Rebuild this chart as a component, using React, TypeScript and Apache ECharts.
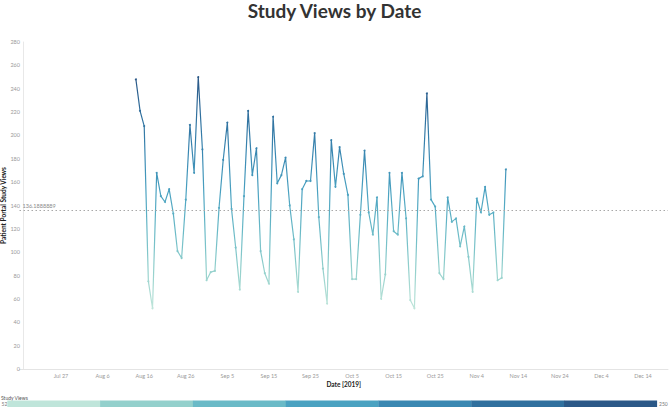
import React, { useEffect, useRef } from "react";
import * as echarts from "echarts";

// Daily study views, Aug 14 2019 .. Nov 11 2019 (one value per day)
const FIRST_DATE = "2019-08-14";
const studyViews: number[] = [
  248, 221, 208, 75, 52, 168, 148, 143, 154, 133,
  101, 95, 145, 209, 168, 250, 188, 76, 83, 84,
  138, 179, 211, 137, 104, 68, 148, 221, 166, 189,
  101, 82, 73, 216, 159, 166, 181, 140, 111, 66,
  154, 161, 161, 202, 130, 86, 56, 196, 156, 190,
  167, 149, 77, 77, 132, 187, 134, 115, 147, 60,
  81, 168, 118, 115, 168, 129, 59, 52, 163, 165,
  236, 145, 139, 82, 77, 147, 126, 129, 105, 122,
  96, 66, 146, 134, 156, 132, 134, 76, 78, 171,
];

// x axis: days counted from Jul 17 2019; labels every 10 days (Jul 27 ... Dec 14)
const AXIS_START = "2019-07-17";
const AXIS_END = "2019-12-20";
const MONTHS = ["Jan", "Feb", "Mar", "Apr", "May", "Jun", "Jul", "Aug", "Sep", "Oct", "Nov", "Dec"];

// y ticks
const Y_MIN = 0;
const Y_MAX = 280;
const Y_STEP = 20;

// colour legend steps (light mint -> dark blue)
const legendColors = ["#bfe5da", "#93d0cc", "#6abac7", "#4aa2c1", "#3a88b2", "#30709e", "#2b5887"];
const legendMin = 52;
const legendMax = 250;

const DAY = 86400000;
const toMs = (s: string) => {
  const [y, m, d] = s.split("-").map(Number);
  return Date.UTC(y, m - 1, d);
};

export default function App() {
  const ref = useRef<HTMLDivElement>(null);

  useEffect(() => {
    document.body.style.margin = "0";
    if (!ref.current) return;
    const chart = echarts.init(ref.current, undefined, { renderer: "svg" });

    const origin = toMs(AXIS_START);
    const firstOffset = (toMs(FIRST_DATE) - origin) / DAY;
    const axisMax = (toMs(AXIS_END) - origin) / DAY;
    const points = studyViews.map((v, i) => [firstOffset + i, v]);
    const mean = studyViews.reduce((a, b) => a + b, 0) / studyViews.length;

    const barLeft = 7.3;
    const barRight = 656.8;
    const segW = (barRight - barLeft) / legendColors.length;

    const font = "Lato, 'Open Sans', sans-serif";

    chart.setOption({
      animation: false,
      backgroundColor: "#ffffff",
      textStyle: { fontFamily: font },
      title: {
        text: "Study Views by Date",
        left: "center",
        top: -4,
        textStyle: { fontFamily: font, fontSize: 19, fontWeight: "bold", color: "#333333" },
      },
      grid: { left: 19.5, right: 1, top: 42, bottom: 39, containLabel: false, outerBoundsMode: "none" },
      xAxis: {
        type: "value",
        min: 0,
        max: axisMax,
        interval: 10,
        name: "Date [2019]",
        nameLocation: "middle",
        nameGap: 12,
        nameMoveOverlap: false,
        nameTextStyle: { fontFamily: font, fontSize: 6.5, fontWeight: "bold", color: "#222" },
        axisLine: { show: true, lineStyle: { color: "#e4e4e4", width: 1 } },
        axisTick: { show: false },
        splitLine: { show: false },
        axisLabel: {
          fontSize: 5.5,
          color: "#9a9a9a",
          margin: 4,
          showMinLabel: false,
          showMaxLabel: false,
          formatter: (v: number) => {
            if (Math.abs(v % 10) > 1e-6) return "";
            const d = new Date(origin + v * DAY);
            return MONTHS[d.getUTCMonth()] + " " + d.getUTCDate();
          },
        },
      },
      yAxis: {
        type: "value",
        min: Y_MIN,
        max: Y_MAX,
        interval: Y_STEP,
        offset: -3.5,
        name: "Patient Portal Study Views",
        nameLocation: "middle",
        nameRotate: 90,
        nameGap: 16,
        nameMoveOverlap: false,
        nameTextStyle: { fontFamily: font, fontSize: 6.5, fontWeight: "bold", color: "#222" },
        axisLine: { show: true, lineStyle: { color: "#e8e8e8", width: 1 } },
        axisTick: { show: false },
        splitLine: { show: false },
        axisLabel: { fontSize: 5.5, color: "#9a9a9a", margin: 3 },
      },
      visualMap: {
        show: false,
        type: "continuous",
        dimension: 1,
        min: legendMin,
        max: legendMax,
        inRange: { color: legendColors },
      },
      series: [
        {
          type: "line",
          data: points,
          symbol: "circle",
          symbolSize: 2,
          showSymbol: true,
          lineStyle: { width: 1.2 },
          markLine: {
            silent: true,
            symbol: "none",
            lineStyle: { type: [1.5, 2.5], color: "#a8a8a8", width: 1 },
            label: {
              show: true,
              position: "insideStartTop",
              formatter: () => mean.toFixed(7),
              fontSize: 5.5,
              color: "#8a8a8a",
              distance: [3, 1],
            },
            data: [{ yAxis: mean }],
          },
        },
      ],
      graphic: [
        {
          type: "text",
          left: 1,
          top: 395,
          style: { text: "Study Views", fontSize: 5, fill: "#555", fontFamily: font },
        },
        {
          type: "text",
          left: 1.5,
          top: 401,
          style: { text: String(legendMin), fontSize: 5, fill: "#777", fontFamily: font },
        },
        {
          type: "text",
          left: 659,
          top: 401,
          style: { text: String(legendMax), fontSize: 5, fill: "#777", fontFamily: font },
        },
        ...legendColors.map((c, i) => ({
          type: "rect",
          shape: { x: barLeft + i * segW, y: 400.5, width: segW + 0.3, height: 6.5 },
          style: { fill: c },
        })),
      ],
    });

    return () => chart.dispose();
  }, []);

  return <div ref={ref} style={{ width: 669, height: 408 }} />;
}
